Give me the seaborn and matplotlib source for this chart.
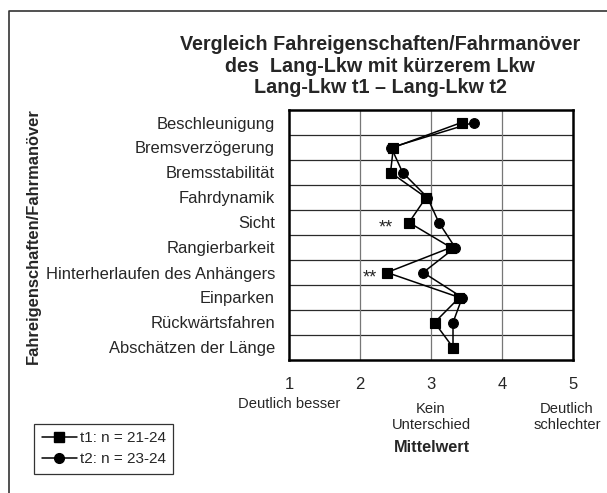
import matplotlib
matplotlib.use("Agg")
import matplotlib.pyplot as plt
from matplotlib.lines import Line2D
import seaborn as sns
import pandas as pd

# Manoeuvres / driving characteristics (top to bottom)
categories = [
    "Beschleunigung",
    "Bremsverzögerung",
    "Bremsstabilität",
    "Fahrdynamik",
    "Sicht",
    "Rangierbarkeit",
    "Hinterherlaufen des Anhängers",
    "Einparken",
    "Rückwärtsfahren",
    "Abschätzen der Länge",
]
# Mean ratings (1 = clearly better ... 5 = clearly worse)
t1_values = [3.43, 2.47, 2.43, 2.93, 2.69, 3.28, 2.38, 3.40, 3.05, 3.31]
t2_values = [3.60, 2.44, 2.60, 2.95, 3.11, 3.34, 2.89, 3.44, 3.31, 3.31]
series_labels = ["t1: n = 21-24", "t2: n = 23-24"]
x_ticks = [1, 2, 3, 4, 5]
scale_notes = {1: "Deutlich besser", 3: "Kein\nUnterschied", 5: "Deutlich\nschlechter"}
significant = ["Sicht", "Hinterherlaufen des Anhängers"]

title = ("Vergleich Fahreigenschaften/Fahrmanöver\n"
         "des  Lang-Lkw mit kürzerem Lkw\n"
         "Lang-Lkw t1 \u2013 Lang-Lkw t2")

df = pd.DataFrame({
    "Kategorie": categories * 2,
    "Mittelwert": t1_values + t2_values,
    "Serie": [series_labels[0]] * len(categories) + [series_labels[1]] * len(categories),
})

sns.set_style("white")
plt.rcParams["font.family"] = ["Liberation Sans", "DejaVu Sans"]

W, H = 607, 493
fig = plt.figure(figsize=(W / 100, H / 100), dpi=100)
ax = fig.add_axes([289 / W, 1 - 360 / H, (573 - 289) / W, (360 - 110) / H])

sns.pointplot(
    data=df, x="Mittelwert", y="Kategorie", hue="Serie",
    order=categories, hue_order=series_labels,
    palette=["black", "black"], markers=["s", "o"], linestyles=["-", "-"],
    orient="h", dodge=False, errorbar=None, ax=ax,
    markersize=7, linewidth=1.1, legend=False,
)

n = len(categories)
ax.set_xlim(1, 5)
ax.set_ylim(n - 0.5, -0.5)

# category boundaries as grid / outward ticks
bounds = [i - 0.5 for i in range(n + 1)]
ax.set_yticks(range(n))
ax.set_yticklabels(categories, fontsize=11.9)
ax.set_yticks(bounds, minor=True)
ax.tick_params(axis="y", which="major", length=0, pad=10)
ax.tick_params(axis="y", which="minor", length=5, width=1.2, direction="out", color="black")
for b in bounds[1:-1]:
    ax.axhline(b, color="#2a2a2a", lw=0.9, zorder=0)

ax.set_xticks(x_ticks)
ax.set_xticklabels([str(v) for v in x_ticks], fontsize=12)
ax.tick_params(axis="x", which="major", length=4, width=1.2, direction="out", pad=8)
for v in x_ticks[1:-1]:
    ax.axvline(v, color="#777777", lw=0.9, zorder=0)

for s in ax.spines.values():
    s.set_visible(True)
    s.set_color("black")
    s.set_linewidth(1.8)

ax.set_xlabel("")
ax.set_ylabel("")

# significance markers
for cat, dx in zip(significant, [-0.32, -0.24]):
    i = categories.index(cat)
    ax.text(t1_values[i] + dx, i + 0.2, "**", ha="center", va="center", fontsize=13)

# scale anchors below the x axis
note_y = {1: 404, 3: 417, 5: 417}
for v, txt in scale_notes.items():
    fx = (289 + (v - 1) * 71) / W
    if v == 5:
        fx = 567 / W
    fig.text(fx, 1 - note_y[v] / H, txt, ha="center", va="center",
             fontsize=10.6, linespacing=1.2)
fig.text(432 / W, 1 - 448 / H, "Mittelwert", ha="center", va="center",
         fontsize=11.7, fontweight="bold")

fig.text(33 / W, 1 - 236 / H, "Fahreigenschaften/Fahrmanöver", rotation=90,
         ha="center", va="center", fontsize=11.9, fontweight="bold")

fig.text(380 / W, 1 - 66 / H, title, ha="center", va="center",
         fontsize=14.2, fontweight="bold", linespacing=1.17)

handles = [
    Line2D([], [], color="black", marker="s", markersize=7, lw=1.1),
    Line2D([], [], color="black", marker="o", markersize=7, lw=1.1),
]
leg = fig.legend(handles, series_labels, loc="lower left",
                 bbox_to_anchor=(34 / W, 1 - 474 / H), fontsize=11,
                 frameon=True, fancybox=False, handlelength=2.3,
                 borderpad=0.5, labelspacing=0.45, handletextpad=0.2,
                 borderaxespad=0)
leg.get_frame().set_edgecolor("black")
leg.get_frame().set_linewidth(0.9)

# page frame (top and left edges)
fig.add_artist(Line2D([9 / W, 9 / W, 1], [0, 1 - 11 / H, 1 - 11 / H],
                      transform=fig.transFigure, color="#333333", lw=1.2))

fig.savefig("out.png", dpi=100)
